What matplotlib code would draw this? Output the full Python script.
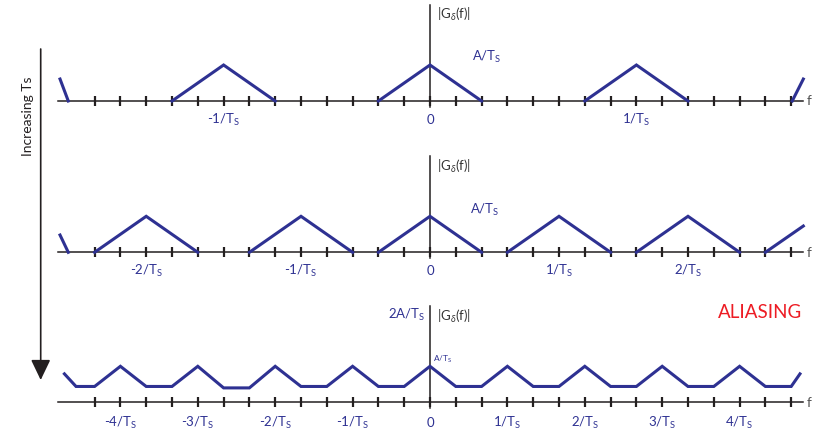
import matplotlib
matplotlib.use("Agg")
import matplotlib.pyplot as plt
from matplotlib.patches import FancyArrowPatch

plt.rcParams['font.family'] = ['Lato', 'DejaVu Sans']
plt.rcParams['mathtext.fontset'] = 'custom'
plt.rcParams['mathtext.rm'] = 'Lato'
plt.rcParams['mathtext.it'] = 'Lato:italic'
plt.rcParams['mathtext.bf'] = 'Lato:bold'

BLUE = '#2e3192'
INK = '#231f20'
RED = '#ed1c24'

# f in tick steps, |G| in units of A/Ts
ticks = list(range(-13, 15))
half_width = 2
peak = 1.0

# top panel: well separated spectra
top_centers = [-8, 0, 8]
top_edges_f = [[-14.34, -14.02], [14.04, 14.47]]
top_edges_g = [[0.61, 0.0], [0.0, 0.61]]
top_label_pos = [-8, 0, 8]
top_label_txt = ['-1/T$_\\mathrm{S}$', '0', '1/T$_\\mathrm{S}$']

# middle panel: spectra closer together
mid_centers = [-11, -5, 0, 5, 10]
mid_edges_f = [[-14.34, -14.02], [13.0, 14.47]]
mid_edges_g = [[0.48, 0.0], [0.0, 0.73]]
mid_label_pos = [-11, -5, 0, 5, 10]
mid_label_txt = ['-2/T$_\\mathrm{S}$', '-1/T$_\\mathrm{S}$', '0',
                 '1/T$_\\mathrm{S}$', '2/T$_\\mathrm{S}$']

# bottom panel: overlapping spectra (aliasing)
alias_f = [-14.17, -13.72, -13, -12, -11, -10, -9, -8, -7, -6, -5, -4, -3, -2,
           -1, 0, 1, 2, 3, 4, 5, 6, 7, 8, 9, 10, 11, 12, 13, 14, 14.34]
alias_g = [0.79, 0.44, 0.44, 1, 0.44, 0.44, 1, 0.4, 0.4, 1, 0.44, 0.44, 1, 0.44,
           0.44, 1, 0.44, 0.44, 1, 0.44, 0.44, 1, 0.44, 0.44, 1, 0.44, 0.44, 1,
           0.44, 0.44, 0.79]
bot_label_pos = [-12, -9, -6, -3, 0, 3, 6, 9, 12]
bot_label_txt = ['-4/T$_\\mathrm{S}$', '-3/T$_\\mathrm{S}$', '-2/T$_\\mathrm{S}$',
                 '-1/T$_\\mathrm{S}$', '0', '1/T$_\\mathrm{S}$', '2/T$_\\mathrm{S}$',
                 '3/T$_\\mathrm{S}$', '4/T$_\\mathrm{S}$']

W, H = 823, 435
PX, PY = 25.8, 36.0   # pixels per tick, pixels per A/Ts
X0 = 430              # pixel column of f = 0

fig = plt.figure(figsize=(W / 100, H / 100), dpi=100)
fig.patch.set_facecolor('white')


def panel(top, bottom, axis_y):
    ax = fig.add_axes([0, 1 - bottom / H, 1, (bottom - top) / H])
    ax.set_xlim(-X0 / PX, (W - X0) / PX)
    ax.set_ylim(-(bottom - axis_y) / PY, (axis_y - top) / PY)
    ax.axis('off')
    # f axis with ticks
    ax.plot([-14.41, 14.47], [0, 0], color=INK, lw=1.1, zorder=2)
    ax.plot(ticks, [0] * len(ticks), ls='none', marker='|', ms=7.5, mew=1.6,
            color=INK, zorder=2)
    ax.plot([0, 0], [-0.17, 2.67], color=INK, lw=1.1, zorder=2)
    ax.text(14.62, 0.02, 'f', color='#555555', fontsize=10, ha='left', va='center')
    ax.text(0.27, 2.42, '|G$_{\\mathit{\\delta}}$(f)|', color='#333333',
            fontsize=9.5, ha='left', va='center')
    return ax


def labels(ax, pos, txt, y):
    for p, t in zip(pos, txt):
        ax.text(p, y, t, color=BLUE, fontsize=9.5, ha='center', va='center')


def spectra(ax, centers, edges_f, edges_g):
    for c in centers:
        ax.plot([c - half_width, c, c + half_width], [0, peak, 0],
                color=BLUE, lw=2.2, solid_joinstyle='miter', zorder=3)
    for ef, eg in zip(edges_f, edges_g):
        ax.plot(ef, eg, color=BLUE, lw=2.2, zorder=3)


ax1 = panel(0, 140, 102)
spectra(ax1, top_centers, top_edges_f, top_edges_g)
labels(ax1, top_label_pos, top_label_txt, -0.5)
ax1.text(1.62, 1.25, 'A/T$_\\mathrm{S}$', color=BLUE, fontsize=9.5,
         ha='left', va='center')

ax2 = panel(140, 290, 253.3)
spectra(ax2, mid_centers, mid_edges_f, mid_edges_g)
labels(ax2, mid_label_pos, mid_label_txt, -0.5)
ax2.text(1.55, 1.2, 'A/T$_\\mathrm{S}$', color=BLUE, fontsize=9.5,
         ha='left', va='center')

ax3 = panel(290, 435, 403.3)
ax3.plot(alias_f, alias_g, color=BLUE, lw=2.2, solid_joinstyle='miter', zorder=3)
labels(ax3, bot_label_pos, bot_label_txt, -0.55)
ax3.text(0.1, 1.22, 'A/T$_\\mathrm{S}$', color=BLUE, fontsize=6,
         ha='left', va='center')
ax3.text(-0.2, 2.45, '2A/T$_\\mathrm{S}$', color=BLUE, fontsize=9.5,
         ha='right', va='center')
ax3.text(14.42, 2.52, 'ALIASING', color=RED, fontsize=13.5,
         ha='right', va='center')

# increasing Ts arrow on the left
arrow = FancyArrowPatch(posA=(40.7 / W, 1 - 50 / H), posB=(40.7 / W, 1 - 381 / H),
                        transform=fig.transFigure,
                        arrowstyle='-|>,head_length=1.25,head_width=0.6',
                        mutation_scale=10, lw=1.2, color=INK,
                        shrinkA=0, shrinkB=0)
fig.add_artist(arrow)
fig.text(28 / W, 1 - 116 / H, 'Increasing Ts', rotation=90, color=INK,
         fontsize=10, ha='center', va='center')

fig.savefig('out.png', dpi=100, facecolor='white')
